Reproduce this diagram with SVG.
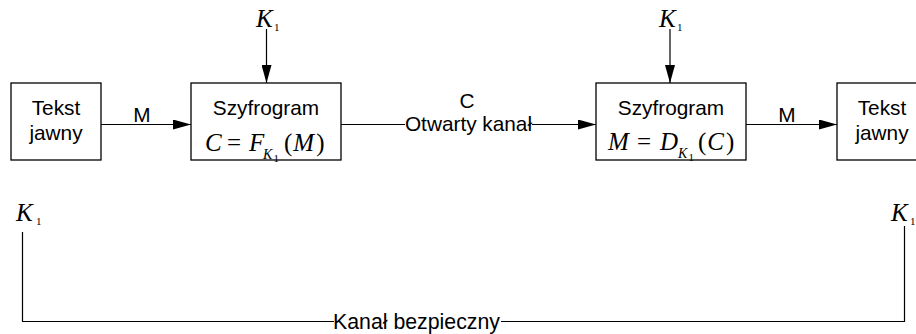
<svg xmlns="http://www.w3.org/2000/svg" width="916" height="334" viewBox="0 0 916 334">
<defs>
<marker id="arr" markerUnits="userSpaceOnUse" markerWidth="18" markerHeight="10" refX="18" refY="5" orient="auto">
<path d="M0,0 L18,5 L0,10 z" fill="#000"/>
</marker>
<style>
.box{fill:#fff;stroke:#000;stroke-width:1.3}
.ln{fill:none;stroke:#000;stroke-width:1.2}
.sans{font-family:"Liberation Sans",Arial,sans-serif;font-size:20.8px;fill:#000}
.math{font-family:"Liberation Serif","Times New Roman",serif;font-size:25px;fill:#000}
.it{font-style:italic}
.sub{font-family:"Liberation Serif","Times New Roman",serif;font-size:14px;font-style:italic;fill:#000}
.sub2{font-family:"Liberation Serif","Times New Roman",serif;font-size:11px;fill:#000}
.c{text-anchor:middle}
</style>
</defs>
<rect width="916" height="334" fill="#fff"/>

<g id="connectors">
<line class="ln" x1="101" y1="124.5" x2="191" y2="124.5" marker-end="url(#arr)"/>
<line class="ln" x1="341" y1="124.5" x2="405" y2="124.5"/>
<line class="ln" x1="532" y1="124.5" x2="596" y2="124.5" marker-end="url(#arr)"/>
<line class="ln" x1="746" y1="124.5" x2="837" y2="124.5" marker-end="url(#arr)"/>
<line class="ln" x1="266.5" y1="29" x2="266.5" y2="83" marker-end="url(#arr)"/>
<line class="ln" x1="670" y1="29" x2="670" y2="83" marker-end="url(#arr)"/>
<polyline class="ln" points="22.5,232 22.5,321.5 334,321.5"/>
<polyline class="ln" points="501,321.5 904.5,321.5 904.5,226"/>
<text class="sans c" x="467" y="108">C</text>
<text class="sans c" x="468.5" y="131">Otwarty kanał</text>
<text class="sans" x="333" y="328.5" style="font-size:21.3px">Kanał bezpieczny</text>
<text class="sans c" x="142" y="122">M</text>
<text class="sans c" x="787" y="122">M</text>
</g>

<g id="k1-top-left">
<text class="math it" x="256" y="27">K</text>
<text class="sub2" x="274" y="31">1</text>
</g>
<g id="k1-top-right">
<text class="math it" x="659" y="27">K</text>
<text class="sub2" x="677" y="31">1</text>
</g>
<g id="k1-bottom-left">
<text class="math it" x="16" y="221">K</text>
<text class="sub2" x="36" y="225">1</text>
</g>
<g id="k1-bottom-right">
<text class="math it" x="891" y="221">K</text>
<text class="sub2" x="910" y="225">1</text>
</g>

<g id="plain-left">
<rect class="box" x="11" y="83" width="90" height="77"/>
<text class="sans c" x="56" y="115">Tekst</text>
<text class="sans c" x="56" y="140">jawny</text>
</g>

<g id="encrypt">
<rect class="box" x="191" y="83" width="150" height="77"/>
<text class="sans c" x="266" y="115">Szyfrogram</text>
<text class="math it" x="205" y="151">C</text>
<text class="math" x="227" y="151">=</text>
<text class="math it" x="249" y="151">F</text>
<text class="sub" x="263" y="159">K</text>
<text class="sub2" x="273.5" y="162">1</text>
<text class="math" x="284" y="151">(<tspan class="it" dx="1">M</tspan><tspan dx="2">)</tspan></text>
</g>

<g id="decrypt">
<rect class="box" x="596" y="83" width="150" height="77"/>
<text class="sans c" x="671" y="115">Szyfrogram</text>
<text class="math it" x="608" y="150">M</text>
<text class="math" x="637" y="150">=</text>
<text class="math it" x="660" y="150">D</text>
<text class="sub" x="678" y="158">K</text>
<text class="sub2" x="688.5" y="161">1</text>
<text class="math" x="698" y="150">(<tspan class="it" dx="1">C</tspan><tspan dx="2">)</tspan></text>
</g>

<g id="plain-right">
<rect class="box" x="837" y="83" width="90" height="77"/>
<text class="sans c" x="882" y="115">Tekst</text>
<text class="sans c" x="882" y="140">jawny</text>
</g>
</svg>
